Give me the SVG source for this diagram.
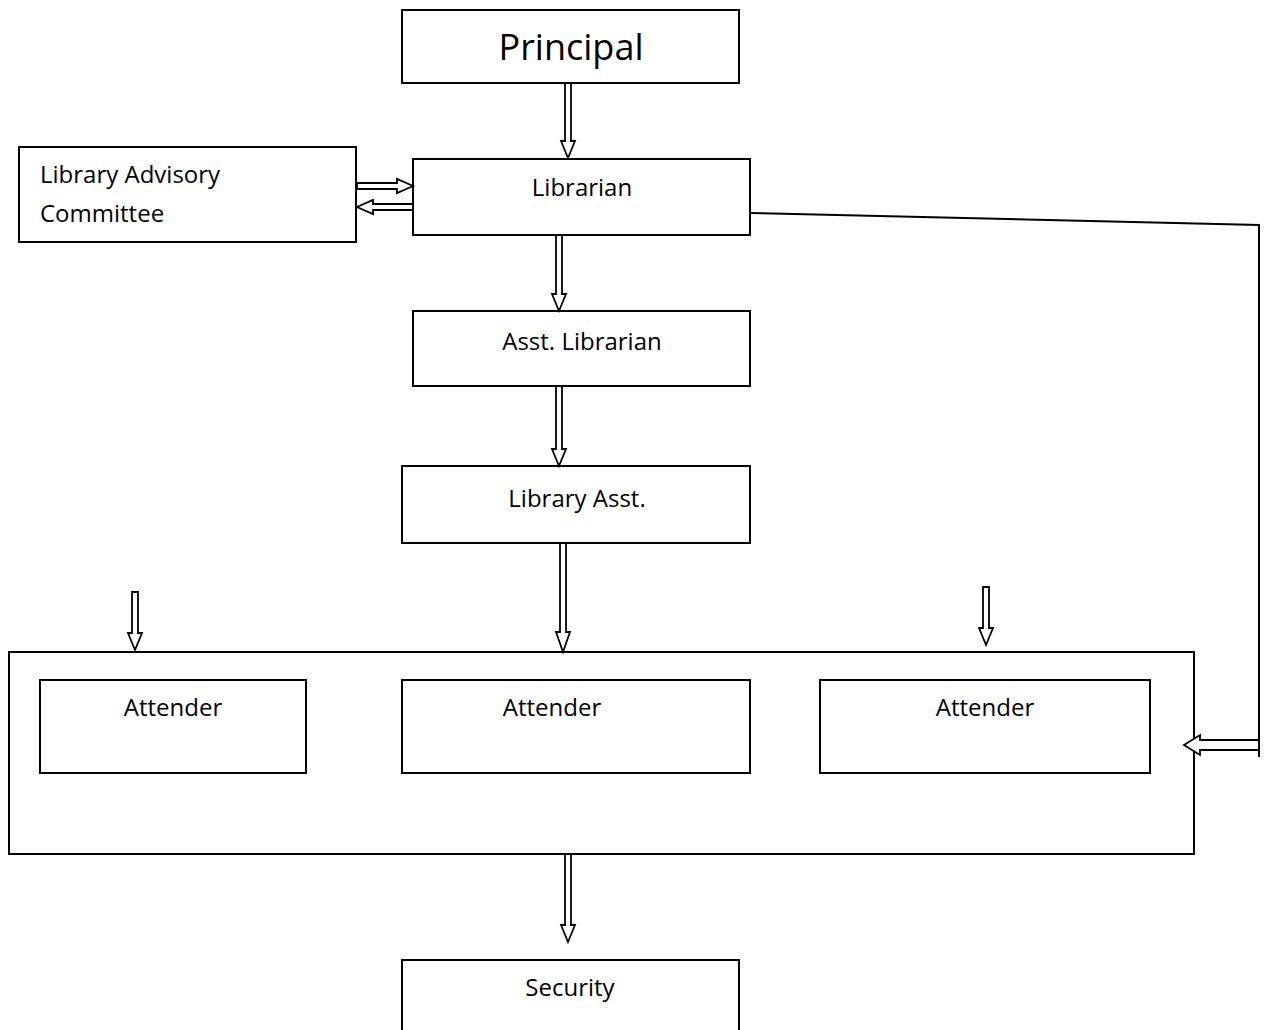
<svg xmlns="http://www.w3.org/2000/svg" width="1267" height="1030" viewBox="0 0 1267 1030">
<style>
.box{fill:#fff;stroke:#000;stroke-width:2}
.t{font-family:"Open Sans","Liberation Sans",sans-serif;font-size:24px;fill:#000}
.c{text-anchor:middle}
.ar{fill:#fff;stroke:#000;stroke-width:1.8;stroke-linejoin:miter}
.ln{fill:none;stroke:#000;stroke-width:2}
</style>
<rect width="1267" height="1030" fill="#fff"/>
<g id="principal"><rect class="box" x="402" y="10" width="337" height="73"/><text class="t c" x="571" y="60" style="font-size:36px">Principal</text></g>
<g id="librarian"><rect class="box" x="413" y="159" width="337" height="76"/><text class="t c" x="582" y="196">Librarian</text></g>
<g id="advisory"><rect class="box" x="19" y="147" width="337" height="95"/><text class="t" x="40" y="183">Library Advisory</text><text class="t" x="40" y="222">Committee</text></g>
<g id="asst-librarian"><rect class="box" x="413" y="311" width="337" height="75"/><text class="t c" x="582" y="350">Asst. Librarian</text></g>
<g id="library-asst"><rect class="box" x="402" y="466" width="348" height="77"/><text class="t c" x="577" y="507">Library Asst.</text></g>
<g id="attender-group"><rect class="box" x="9" y="652" width="1185" height="202"/></g>
<g id="attender1"><rect class="box" x="40" y="680" width="266" height="93"/><text class="t c" x="173" y="716">Attender</text></g>
<g id="attender2"><rect class="box" x="402" y="680" width="348" height="93"/><text class="t c" x="552" y="716">Attender</text></g>
<g id="attender3"><rect class="box" x="820" y="680" width="330" height="93"/><text class="t c" x="985" y="716">Attender</text></g>
<g id="security"><rect class="box" x="402" y="960" width="337" height="80"/><text class="t c" x="570" y="996">Security</text></g>
<g id="connectors">
<polygon class="ar" points="565,83 571,83 571,141 575,141 568,158 561,141 565,141"/>
<polygon class="ar" points="556,235 562,235 562,294 566,294 559,311 552,294 556,294"/>
<polygon class="ar" points="556,386 562,386 562,449 566,449 559,466 552,449 556,449"/>
<polygon class="ar" points="560,543 566,543 566,632 570,632 563,652 556,632 560,632"/>
<polygon class="ar" points="132,592 138,592 138,633 142,633 135,650 128,633 132,633"/>
<polygon class="ar" points="983,587 989,587 989,628 993,628 986,645 979,628 983,628"/>
<polygon class="ar" points="565,854 571,854 571,925 575,925 568,942 561,925 565,925"/>
<polygon class="ar" points="357,183 357,189 397,189 397,193 413,186 397,179 397,183"/>
<polygon class="ar" points="413,204 413,210 373,210 373,214 357,207 373,200 373,204"/>
<polyline class="ln" points="750,213 1259,225 1259,757"/>
<polygon class="ar" points="1259,740 1259,750 1200,750 1200,755 1184,745 1200,735 1200,740"/>
</g>
</svg>
